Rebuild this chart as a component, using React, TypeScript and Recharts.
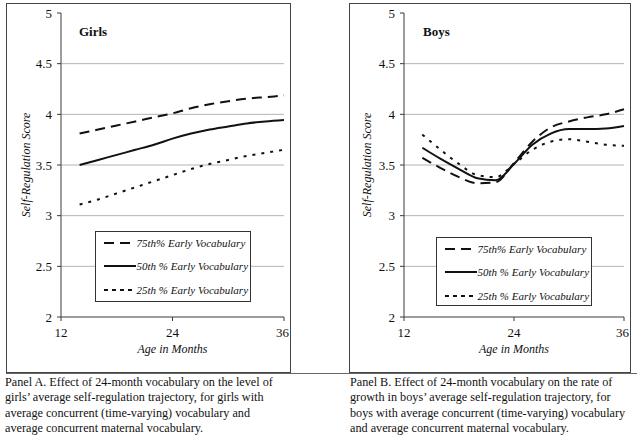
import { Label, Legend, Line, LineChart, ReferenceLine, XAxis, YAxis } from "recharts";

const MONTHS = [14, 16, 18, 20, 22, 24, 26, 28, 30, 32, 34, 36];

const GIRLS_75 = [3.81, 3.85, 3.89, 3.93, 3.97, 4.01, 4.06, 4.1, 4.13, 4.155, 4.17, 4.185];
const GIRLS_50 = [3.5, 3.55, 3.6, 3.65, 3.7, 3.76, 3.81, 3.85, 3.88, 3.91, 3.93, 3.945];
const GIRLS_25 = [3.11, 3.16, 3.22, 3.28, 3.34, 3.4, 3.46, 3.51, 3.55, 3.59, 3.62, 3.65];

const BOYS_75 = [3.57, 3.47, 3.38, 3.32, 3.33, 3.52, 3.73, 3.87, 3.93, 3.97, 4.0, 4.05];
const BOYS_50 = [3.67, 3.56, 3.46, 3.37, 3.35, 3.51, 3.7, 3.81, 3.855, 3.855, 3.86, 3.885];
const BOYS_25 = [3.8, 3.65, 3.51, 3.4, 3.38, 3.51, 3.65, 3.73, 3.755, 3.73, 3.7, 3.69];

const Y_TICKS = [2, 2.5, 3, 3.5, 4, 4.5, 5];
const GRID_VALUES = [2.5, 3, 3.5, 4, 4.5];
const X_TICKS = [12, 24, 36];

const SERIES = [
  { key: "p75", name: "75th% Early Vocabulary", dash: "10 6", legendDash: "10 6" },
  { key: "p50", name: "50th % Early Vocabulary", dash: undefined, legendDash: undefined },
  { key: "p25", name: "25th % Early Vocabulary", dash: "3 6", legendDash: "4 4" },
];

const CAPTION_A = [
  "Panel A. Effect of 24-month vocabulary on the level of",
  "girls\u2019 average self-regulation trajectory, for girls with",
  "average concurrent (time-varying) vocabulary and",
  "average concurrent maternal vocabulary.",
];
const CAPTION_B = [
  "Panel B. Effect of 24-month vocabulary on the rate of",
  "growth in boys\u2019 average self-regulation trajectory, for",
  "boys with average concurrent (time-varying) vocabulary",
  "and average concurrent maternal vocabulary.",
];

const FONT = "Liberation Serif";
const INK = "#111";
const AXIS = "#3a3a3a";

const toRows = (p75: number[], p50: number[], p25: number[]) =>
  MONTHS.map((month, i) => ({ month, p75: p75[i], p50: p50[i], p25: p25[i] }));

const GIRLS = toRows(GIRLS_75, GIRLS_50, GIRLS_25);
const BOYS = toRows(BOYS_75, BOYS_50, BOYS_25);

const tickStyle = { fill: INK, fontSize: 13, fontFamily: FONT };

function LegendBox() {
  return (
    <div
      style={{
        border: "1.5px solid #333",
        boxSizing: "border-box",
        width: "100%",
        height: "100%",
        padding: "0 0 0 8px",
        background: "#fff",
        fontFamily: FONT,
      }}
    >
      {SERIES.map((s) => (
        <div key={s.key} style={{ display: "flex", alignItems: "center", height: 23.3 }}>
          <svg width={32} height={6} style={{ flex: "none" }}>
            <line x1={0} y1={3} x2={32} y2={3} stroke={INK} strokeWidth={2} strokeDasharray={s.legendDash} />
          </svg>
          <span
            style={{
              fontFamily: FONT,
              fontStyle: "italic",
              fontSize: 11,
              color: INK,
              marginLeft: 1,
              whiteSpace: "nowrap",
            }}
          >
            {s.name}
          </span>
        </div>
      ))}
    </div>
  );
}

function Panel({
  data,
  left,
  width,
  title,
  titleX,
  yLabelX,
  legendPos,
}: {
  data: { month: number; p75: number; p50: number; p25: number }[];
  left: number;
  width: number;
  title: string;
  titleX: number;
  yLabelX: number;
  legendPos: { left: number; top: number; width: number; height: number };
}) {
  return (
    <div
      style={{
        position: "absolute",
        left,
        top: 3,
        width,
        height: 370,
        border: "1.5px solid #444",
        boxSizing: "border-box",
        fontFamily: FONT,
      }}
    >
      <LineChart
        width={width - 3}
        height={367}
        data={data}
        margin={{ top: 9, right: 5, bottom: 14, left: 4 }}
        style={{ position: "absolute", left: 0, top: 0, fontFamily: FONT }}
      >
        {GRID_VALUES.map((v) => (
          <ReferenceLine key={v} y={v} stroke="#b4b4b4" strokeWidth={1} />
        ))}
        <XAxis
          dataKey="month"
          type="number"
          domain={[12, 36]}
          ticks={X_TICKS}
          height={40}
          stroke={AXIS}
          tickSize={4}
          tickMargin={7}
          tick={tickStyle}
        >
          <Label
            value="Age in Months"
            position="insideBottom"
            offset={4}
            style={{ fill: INK, fontSize: 12, fontStyle: "italic", fontFamily: FONT }}
          />
        </XAxis>
        <YAxis
          type="number"
          domain={[2, 5]}
          ticks={Y_TICKS}
          width={50}
          stroke={AXIS}
          tickSize={4}
          tickMargin={5}
          tick={tickStyle}
        >
          <Label
            content={(props: any) => {
              const vb = props.viewBox || {};
              const cx = vb.x + yLabelX;
              const cy = vb.y + vb.height / 2;
              return (
                <text
                  x={cx}
                  y={cy}
                  transform={`rotate(-90, ${cx}, ${cy})`}
                  textAnchor="middle"
                  dominantBaseline="central"
                  fill={INK}
                  fontSize={12}
                  fontStyle="italic"
                  style={{ fontFamily: FONT }}
                >
                  Self-Regulation Score
                </text>
              );
            }}
          />
        </YAxis>
        {SERIES.map((s) => (
          <Line
            key={s.key}
            dataKey={s.key}
            name={s.name}
            type="monotone"
            stroke={INK}
            strokeWidth={2}
            strokeDasharray={s.dash}
            dot={false}
            activeDot={false}
            isAnimationActive={false}
          />
        ))}
        <Legend
          layout="horizontal"
          verticalAlign="middle"
          align="center"
          content={() => <LegendBox />}
          wrapperStyle={{ position: "absolute", ...legendPos }}
        />
      </LineChart>
      <div
        style={{
          position: "absolute",
          left: titleX,
          top: 20,
          fontFamily: FONT,
          fontWeight: "bold",
          fontSize: 13,
          color: INK,
        }}
      >
        {title}
      </div>
    </div>
  );
}

function Caption({ lines, left }: { lines: string[]; left: number }) {
  return (
    <div
      style={{
        position: "absolute",
        left,
        top: 375,
        fontFamily: FONT,
        fontSize: 12.2,
        lineHeight: "15.3px",
        color: INK,
        whiteSpace: "nowrap",
      }}
    >
      {lines.map((l) => (
        <div key={l}>{l}</div>
      ))}
    </div>
  );
}

export default function App() {
  return (
    <div
      style={{
        position: "absolute",
        left: 0,
        top: 0,
        width: 637,
        height: 438,
        background: "#fff",
        overflow: "hidden",
        fontFamily: FONT,
      }}
    >
      <Panel
        data={GIRLS}
        left={6}
        width={285}
        title="Girls"
        titleX={72}
        yLabelX={14.5}
        legendPos={{ left: 87.5, top: 226.5, width: 156, height: 71 }}
      />
      <Panel
        data={BOYS}
        left={349}
        width={282}
        title="Boys"
        titleX={73}
        yLabelX={12.5}
        legendPos={{ left: 85.5, top: 232.5, width: 156, height: 69 }}
      />
      <div style={{ position: "absolute", left: 6, top: 373, width: 631, height: 1, background: "#666" }} />
      <Caption lines={CAPTION_A} left={5} />
      <Caption lines={CAPTION_B} left={350} />
    </div>
  );
}
